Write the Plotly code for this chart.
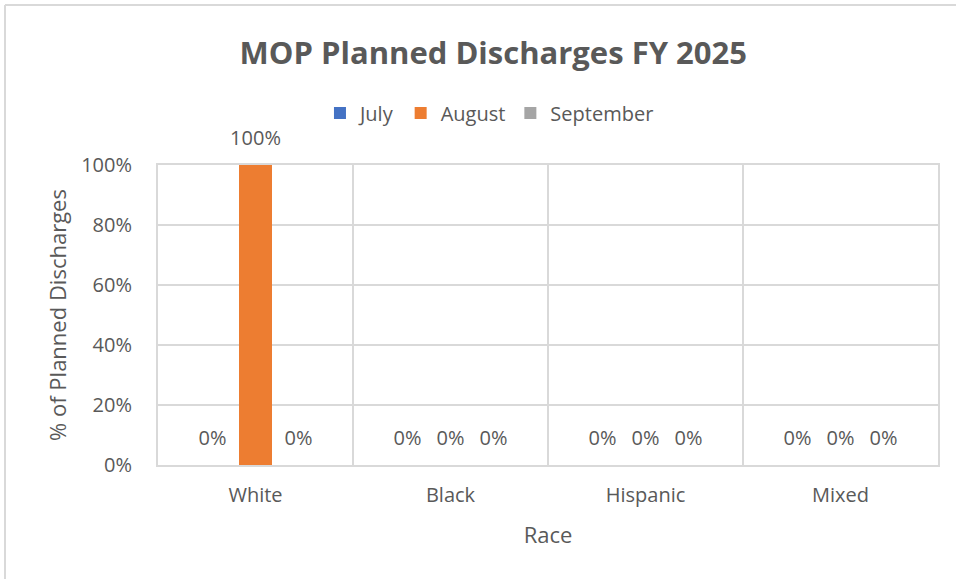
import plotly.graph_objects as go

# ---- data ----
categories = ["White", "Black", "Hispanic", "Mixed"]
series_names = ["July", "August", "September"]
july = [0.0, 0.0, 0.0, 0.0]
august = [1.0, 0.0, 0.0, 0.0]
september = [0.0, 0.0, 0.0, 0.0]
series_values = [july, august, september]
series_colors = ["#4472C4", "#ED7D31", "#A5A5A5"]
y_ticks = [0, 0.2, 0.4, 0.6, 0.8, 1.0]

# ---- style ----
FONT = "Open Sans, Lato, sans-serif"
TXT = "#595959"
GRID = "#D9D9D9"
W, H = 956, 579
ML, MR, MT, MB = 158, 18, 165, 114
BARGAP = 0.338

fig = go.Figure()
for name, vals, col in zip(series_names, series_values, series_colors):
    fig.add_trace(go.Bar(
        x=categories, y=vals, name=name, marker=dict(color=col, line=dict(width=0)),
        offsetgroup=name, hoverinfo="skip",
    ))
for name, vals in zip(series_names, series_values):
    fig.add_trace(go.Scatter(
        x=categories, y=vals, mode="markers+text", offsetgroup=name,
        text=[f"{v:.0%}" for v in vals], textposition="top center",
        textfont=dict(family=FONT, size=20, color=TXT),
        marker=dict(size=22, opacity=0), showlegend=False, cliponaxis=False,
        hoverinfo="skip",
    ))

pw = W - ML - MR
ph = H - MT - MB
fig.update_layout(
    width=W, height=H,
    margin=dict(l=ML, r=MR, t=MT, b=MB),
    paper_bgcolor="white", plot_bgcolor="white",
    barmode="group", bargap=BARGAP, bargroupgap=0.233,
    scattermode="group", scattergap=BARGAP,
    font=dict(family=FONT, color=TXT, size=20),
    title=dict(text="<b>MOP Planned Discharges FY 2025</b>",
               font=dict(family=FONT, size=31, color=TXT),
               x=0.516, xref="container", xanchor="center",
               y=1 - 53 / H, yref="container", yanchor="middle"),
    legend=dict(orientation="h", x=0.512, xref="container", xanchor="center",
                y=1 - 113 / H, yref="container", yanchor="middle",
                font=dict(family=FONT, size=20, color=TXT),
                itemwidth=30, bgcolor="rgba(0,0,0,0)"),
    showlegend=True,
)
fig.update_xaxes(
    type="category", tickson="boundaries", showgrid=True, gridcolor=GRID, gridwidth=2,
    showline=True, mirror=True, linecolor=GRID, linewidth=2,
    ticks="", ticklabelstandoff=11, tickfont=dict(family=FONT, size=20, color=TXT),
    title=dict(text="Race", standoff=21, font=dict(family=FONT, size=22, color=TXT)),
    fixedrange=True,
)
fig.update_yaxes(
    range=[0, 1], tickvals=y_ticks, tickformat=".0%", showgrid=True, gridcolor=GRID,
    gridwidth=2, showline=True, mirror=True, linecolor=GRID, linewidth=2, zeroline=False,
    ticks="", ticklabelstandoff=20, tickfont=dict(family=FONT, size=20, color=TXT),
    title=dict(text="% of Planned Discharges", standoff=8,
               font=dict(family=FONT, size=22, color=TXT)),
    fixedrange=True,
)

# chart-area border (top and left edges), as in the source image
x0 = (5 - ML) / pw
y_top = (H - MB - 5) / ph
y_bot = (H - MB - H) / ph
fig.add_shape(type="line", xref="paper", yref="paper", x0=x0, x1=(W - ML) / pw,
              y0=y_top, y1=y_top, line=dict(color="#D9D9D9", width=2))
fig.add_shape(type="line", xref="paper", yref="paper", x0=x0, x1=x0,
              y0=y_top, y1=y_bot, line=dict(color="#D9D9D9", width=2))

fig.write_html("out.html")
